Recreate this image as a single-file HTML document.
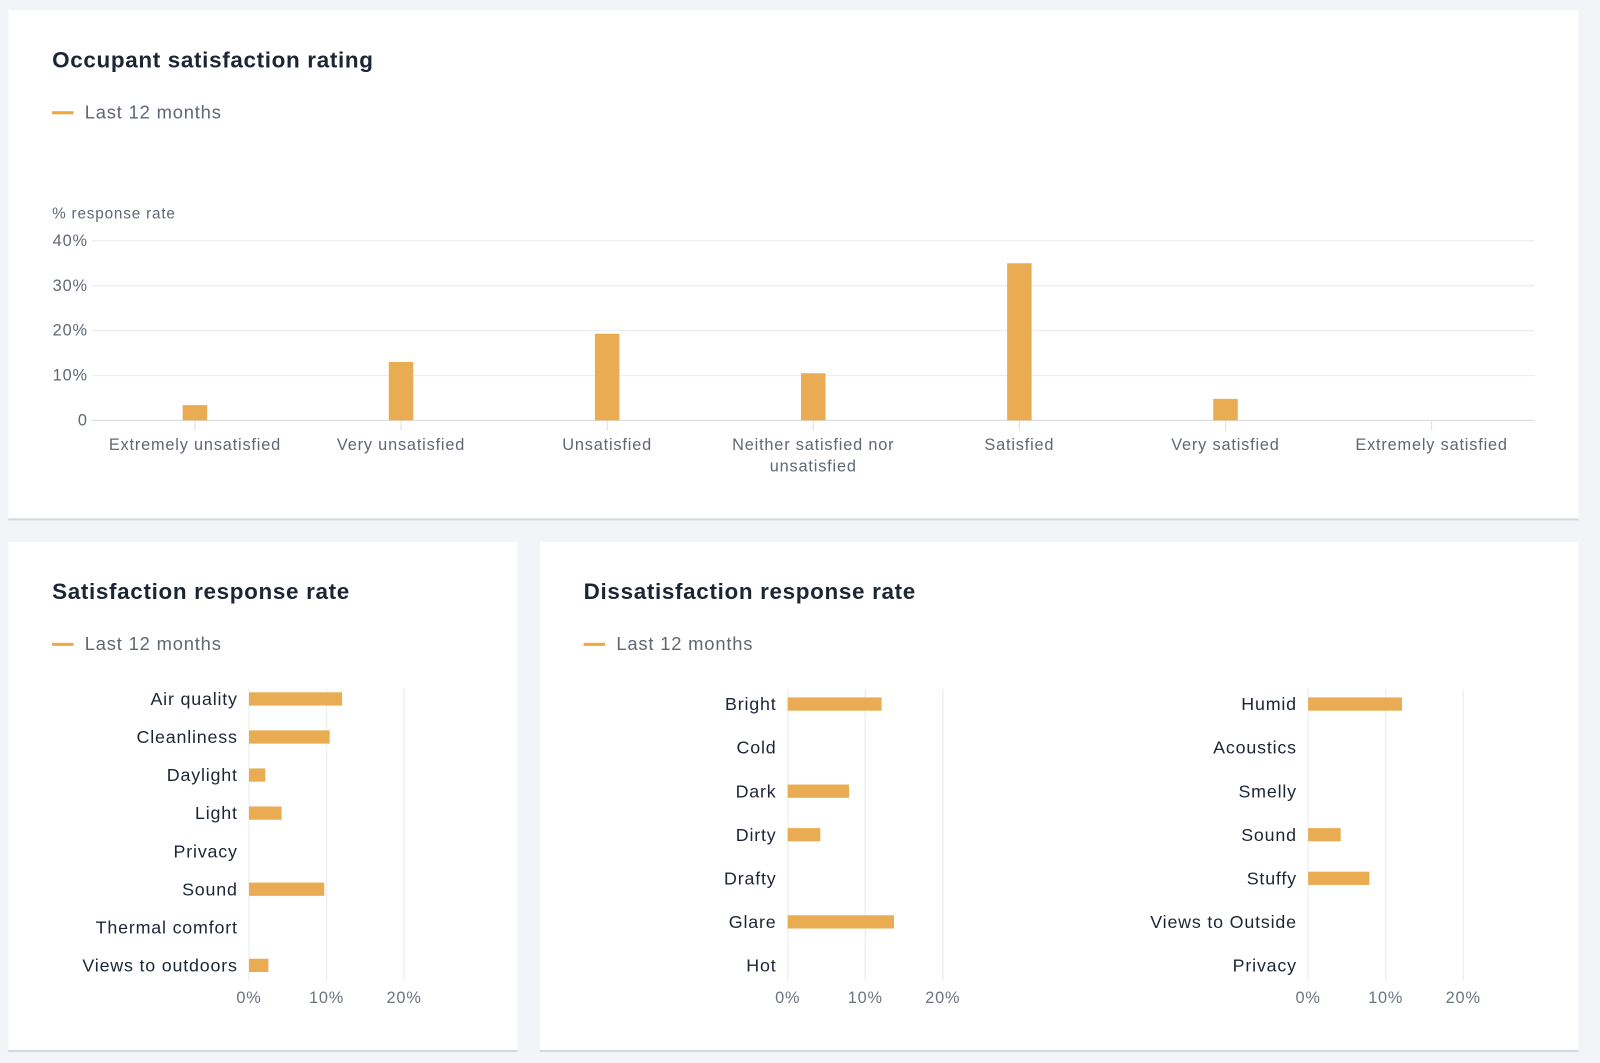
<!DOCTYPE html>
<html><head><meta charset="utf-8"><style>
html,body{margin:0;padding:0;background:#F3F4F8;}
svg{display:block;font-family:"Liberation Sans",sans-serif;}
svg text{letter-spacing:0.8px;}
</style></head><body>
<svg id="page" width="1600" height="1063" viewBox="0 0 1568 1041.8" xmlns="http://www.w3.org/2000/svg">
<rect x="0" y="0" width="1568" height="1042" fill="#F3F4F8"/>
<g>
<rect x="8" y="11" width="1539" height="499" fill="#D5D8DE"/>
<rect x="8" y="10" width="1539" height="498" fill="#fff"/>
<text x="51" y="66" font-size="22" font-weight="bold" fill="#1C2533" style="letter-spacing:0.65px">Occupant satisfaction rating</text>
<rect x="51" y="109" width="21" height="3" fill="#EBA93F"/>
<text x="83" y="116" font-size="18" fill="#5F6773">Last 12 months</text>
<text x="51" y="214" font-size="15" fill="#5F6773">% response rate</text>
<g id="top"></g>
</g>
<g>
<rect x="8" y="532" width="499" height="499" fill="#D5D8DE"/>
<rect x="8" y="531" width="499" height="498" fill="#fff"/>
<text x="51" y="587" font-size="22" font-weight="bold" fill="#1C2533" style="letter-spacing:0.65px">Satisfaction response rate</text>
<rect x="51" y="630" width="21" height="3" fill="#EBA93F"/>
<text x="83" y="637" font-size="18" fill="#5F6773">Last 12 months</text>
<g id="sat"></g>
</g>
<g>
<rect x="529" y="532" width="1018" height="499" fill="#D5D8DE"/>
<rect x="529" y="531" width="1018" height="498" fill="#fff"/>
<text x="572" y="587" font-size="22" font-weight="bold" fill="#1C2533" style="letter-spacing:0.65px">Dissatisfaction response rate</text>
<rect x="572" y="630" width="21" height="3" fill="#EBA93F"/>
<text x="604" y="637" font-size="18" fill="#5F6773">Last 12 months</text>
<g id="dis1"></g><g id="dis2"></g>
</g>
</svg>
<script>
const topCategories = ["Extremely unsatisfied","Very unsatisfied","Unsatisfied","Neither satisfied nor|unsatisfied","Satisfied","Very satisfied","Extremely satisfied"];
const topValues = [3.4, 13, 19.3, 10.5, 35, 4.8, 0];
const topTicks = [0, 10, 20, 30, 40];
const satCategories = ["Air quality","Cleanliness","Daylight","Light","Privacy","Sound","Thermal comfort","Views to outdoors"];
const satValues = [12, 10.4, 2.1, 4.2, 0, 9.7, 0, 2.5];
const dis1Categories = ["Bright","Cold","Dark","Dirty","Drafty","Glare","Hot"];
const dis1Values = [12.1, 0, 7.9, 4.2, 0, 13.7, 0];
const dis2Categories = ["Humid","Acoustics","Smelly","Sound","Stuffy","Views to Outside","Privacy"];
const dis2Values = [12.1, 0, 0, 4.2, 7.9, 0, 0];
const hTicks = [0, 10, 20];

const NS = "http://www.w3.org/2000/svg";
const BAR = "#E9AC52";
function mk(tag, attrs, parent, txt){
  const e = document.createElementNS(NS, tag);
  for (const k in attrs) e.setAttribute(k, attrs[k]);
  if (txt !== undefined) e.textContent = txt;
  parent.appendChild(e); return e;
}

(function(){
  const g = document.getElementById('top');
  const x0 = 90, x1 = 1504, yBase = 412, yTop = 236, vMax = 40;
  const step = (x1 - x0) / topCategories.length;
  const y = v => yBase - (v / vMax) * (yBase - yTop);
  const xc = i => x0 + step * (i + 0.5);
  topTicks.forEach(t => {
    const l = mk('line', {x1: x0, x2: x1, y1: y(t), y2: y(t), stroke: t === 0 ? '#DCDFE4' : '#ECEEF1', 'stroke-width': 1.3}, g);
    
    
    const tx = mk('text', {x: 86, y: y(t) + 5, 'font-size': 16, fill: '#5F6773', 'text-anchor': 'end'}, g, t === 0 ? '0' : t + '%');
    
    
  });
  topCategories.forEach((c, i) => {
    const tk = mk('line', {x1: xc(i), x2: xc(i), y1: yBase, y2: yBase + 10, stroke: '#DCDFE4'}, g);
    
    
    const v = topValues[i];
    if (v > 0) {
      const r = mk('rect', {x: xc(i) - 12, y: y(v), width: 24, height: yBase - y(v), fill: BAR}, g);
      
      
    }
    c.split('|').forEach((ln, j) => {
      const t = mk('text', {x: xc(i), y: 441 + j * 21, 'font-size': 16, fill: '#5F6773', 'text-anchor': 'middle'}, g, ln);
      
      
    });
  });
})();

function hbar(id, cats, vals, zeroX, tenPx, yFirst, yStep, gridTop, gridBot, labelY){
  const g = document.getElementById(id);
  const x = v => zeroX + v * tenPx / 10;
  hTicks.forEach(t => {
    const l = mk('line', {x1: x(t), x2: x(t), y1: gridTop, y2: gridBot, stroke: '#ECEEF1', 'stroke-width': 1.3}, g);
    
    
    const tx = mk('text', {x: x(t), y: labelY, 'font-size': 16, fill: '#6B7380', 'text-anchor': 'middle'}, g, t + '%');
    
    
  });
  cats.forEach((c, i) => {
    const yc = yFirst + i * yStep;
    const t = mk('text', {x: zeroX - 11, y: yc + 6, 'font-size': 17.5, fill: '#1C2533', 'text-anchor': 'end'}, g, c);
    
    
    if (vals[i] > 0) {
      const r = mk('rect', {x: zeroX, y: yc - 6.5, width: x(vals[i]) - zeroX, height: 13, fill: BAR}, g);
      
      
    }
  });
}
hbar('sat', satCategories, satValues, 244, 76, 685, 37.3, 675, 961, 983);
hbar('dis1', dis1Categories, dis1Values, 772, 76, 690, 42.7, 675, 961, 983);
hbar('dis2', dis2Categories, dis2Values, 1282, 76, 690, 42.7, 675, 961, 983);
</script>
</body></html>
